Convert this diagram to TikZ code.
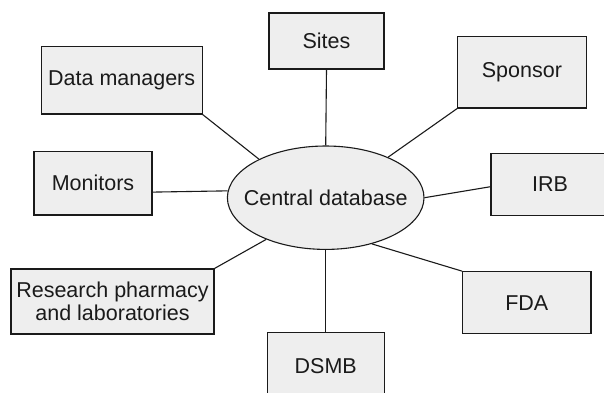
\documentclass[tikz,border=0pt]{standalone}
\usepackage{fontspec}
\setmainfont{Liberation Sans}
\usetikzlibrary{shapes.geometric}
\definecolor{boxfill}{HTML}{EEEEEE}
\definecolor{ink}{HTML}{1A1A1A}
\begin{document}
\begin{tikzpicture}[x=1pt, y=-1pt,
  party/.style={draw=ink, fill=boxfill, line width=1.1pt, inner sep=0pt,
    align=center, text=ink, font=\fontsize{21.5}{23.5}\selectfont},
  hub/.style={ellipse, draw=ink, fill=boxfill, line width=1.1pt, inner sep=0pt,
    minimum width=196.6pt, minimum height=103.4pt, text=ink,
    font=\fontsize{21.5}{23.5}\selectfont},
  link/.style={draw=ink, line width=1.1pt}]
  \useasboundingbox (0,0) rectangle (604,392);
  \clip (0,0) rectangle (604,392);

  % central store (label boxed at zero width so the ellipse keeps its size)
  \node[hub] (db) at (325.7,197.7) {\makebox[0pt]{Central database}};

  % surrounding parties
  \node[party, minimum width=115pt,   minimum height=56pt]   (sites)    at (326.5,41)    {Sites};
  \node[party, minimum width=128.3pt, minimum height=71.3pt] (sponsor)  at (521.9,72.3)  {Sponsor};
  \node[party, minimum width=160.7pt, minimum height=67.3pt] (dm)       at (121.7,80.3)  {Data managers};
  \node[party, minimum width=118pt,   minimum height=63.3pt] (mon)      at (93,183.3)    {Monitors};
  \node[party, minimum width=118pt,   minimum height=61.7pt] (irb)      at (550,184.2)   {IRB};
  \node[party, minimum width=203pt,   minimum height=65pt]   (pharm)    at (112.5,301.5) {Research pharmacy\\and laboratories};
  \node[party, minimum width=128.3pt, minimum height=62pt]   (fda)      at (526.8,302.7) {FDA};
  \node[party, minimum width=116.7pt, minimum height=66pt]   (dsmb)     at (325.7,365.7) {DSMB};

  % connections to the database
  \draw[link] (sites.south) -- (db.90);
  \draw[link] (dm.south east) -- (db.150);
  \draw[link] (sponsor.south west) -- (db.33.6);
  \draw[link] ([yshift=-8.8pt]mon.east) -- (db.176.7);
  \draw[link] ([yshift=-2.5pt]irb.west) -- (db.-0.8);
  \draw[link] (pharm.north east) -- (db.215);
  \draw[link] (fda.north west) -- (db.-45.2);
  \draw[link] (dsmb.north) -- (db.270);
\end{tikzpicture}
\end{document}
